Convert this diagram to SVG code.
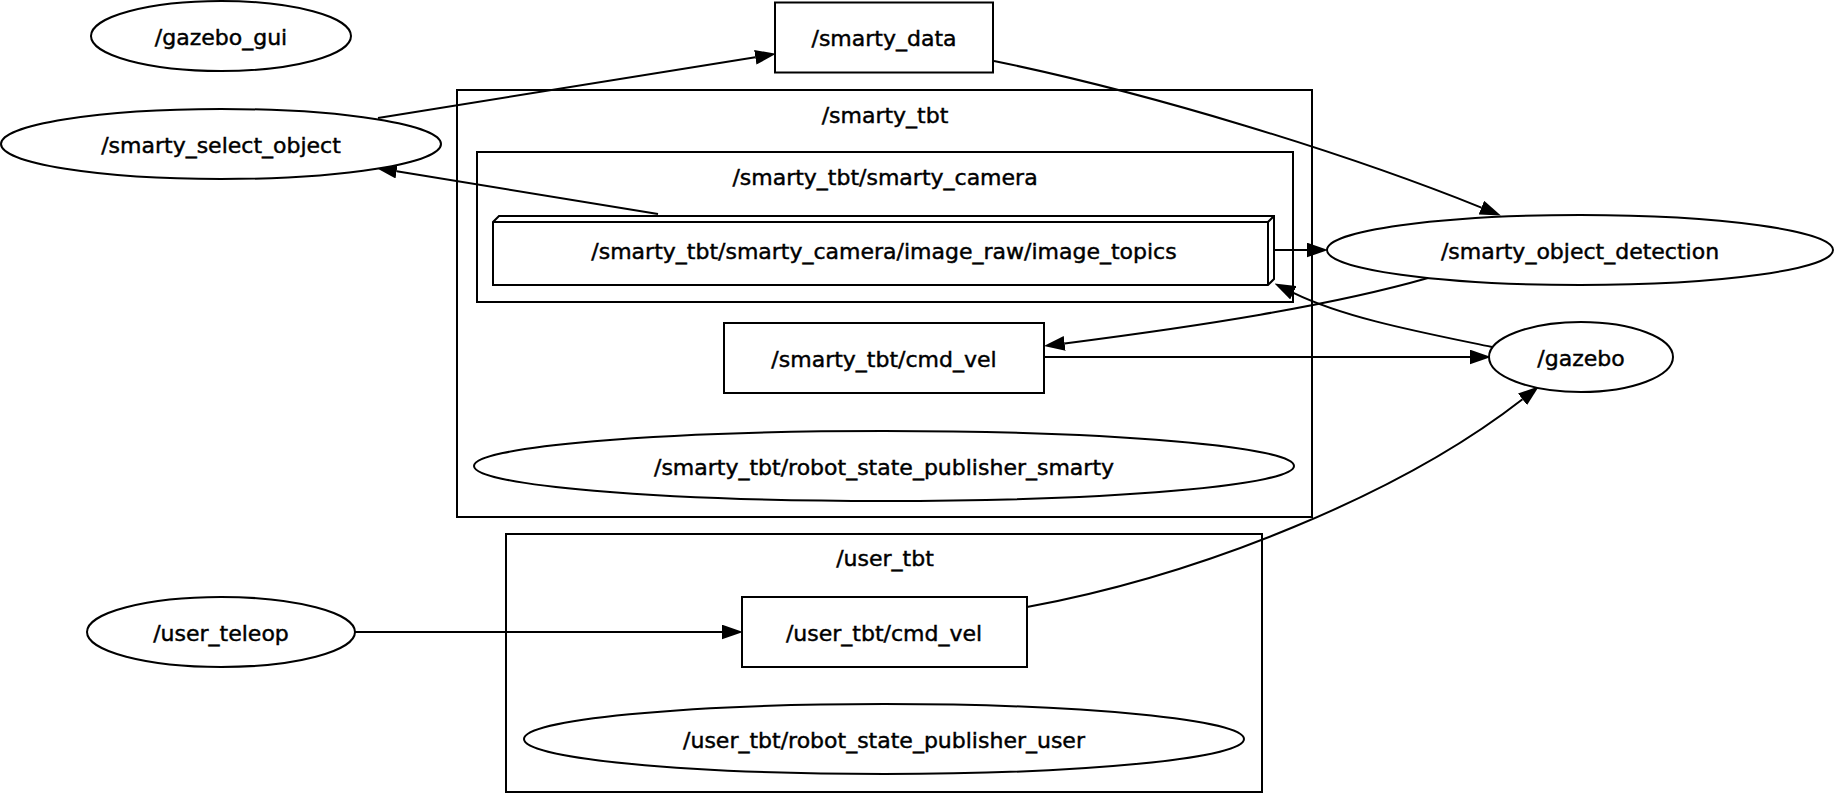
<svg xmlns="http://www.w3.org/2000/svg" width="1834" height="793" viewBox="0 0 1834 793">
<style>
.n{fill:#fff;stroke:#000;stroke-width:2}
.c{fill:none;stroke:#000;stroke-width:2}
.e{fill:none;stroke:#000;stroke-width:2;marker-end:url(#ah)}
text{font-family:"DejaVu Sans","Liberation Sans",sans-serif;font-size:22px;text-anchor:middle;fill:#000;stroke:#000;stroke-width:0.45px}
</style>
<defs>
<marker id="ah" markerUnits="userSpaceOnUse" markerWidth="21" markerHeight="15" viewBox="0 0 20 14" refX="0" refY="7" orient="auto"><path d="M0,0 L20,7 L0,14 z" fill="#000"/></marker>
</defs>
<rect width="1834" height="793" fill="#fff"/>
<g id="cluster_smarty_tbt"><rect class="c" x="457" y="90" width="855" height="427"/><text x="885" y="122.5">/smarty_tbt</text></g>
<g id="cluster_smarty_camera"><rect class="c" x="477" y="152" width="816" height="150"/><text x="885" y="184.5">/smarty_tbt/smarty_camera</text></g>
<g id="cluster_user_tbt"><rect class="c" x="506" y="534" width="756" height="258"/><text x="885" y="565.5">/user_tbt</text></g>
<g id="edges">
<path class="e" d="M378,118 L755.3,57.2"/>
<path class="e" d="M994,61 C1150,93 1343,152 1481.4,207.6"/>
<path class="e" d="M658,214 L396.7,171.2"/>
<path class="e" d="M1275,250 L1307,250"/>
<path class="e" d="M1428,278 C1330,306 1200,326 1064.7,343.4"/>
<path class="e" d="M1492,347 C1420,332 1345,318 1293.4,292.8"/>
<path class="e" d="M1045,357 L1470,357"/>
<path class="e" d="M355,632 L722,632"/>
<path class="e" d="M1027,607 C1200,575 1400,495 1522.5,399.3"/>
</g>
<g id="gazebo_gui"><ellipse class="n" cx="221" cy="36" rx="130" ry="35"/><text x="221" y="44.5">/gazebo_gui</text></g>
<g id="smarty_select_object"><ellipse class="n" cx="221" cy="144" rx="220" ry="35"/><text x="221" y="152.5">/smarty_select_object</text></g>
<g id="smarty_data"><rect class="n" x="775" y="2.5" width="218" height="70"/><text x="884" y="46">/smarty_data</text></g>
<g id="image_topics"><path class="n" d="M493,222 L499,216 L1274,216 L1274,279 L1268,285 L493,285 Z M1268,285 L1268,222 L493,222 M1268,222 L1274,216"/><text x="884" y="258.5">/smarty_tbt/smarty_camera/image_raw/image_topics</text></g>
<g id="smarty_object_detection"><ellipse class="n" cx="1580" cy="250" rx="253" ry="35"/><text x="1580" y="258.5">/smarty_object_detection</text></g>
<g id="smarty_cmd_vel"><rect class="n" x="724" y="323" width="320" height="70"/><text x="884" y="366.5">/smarty_tbt/cmd_vel</text></g>
<g id="gazebo"><ellipse class="n" cx="1581" cy="357" rx="92" ry="35"/><text x="1581" y="365.5">/gazebo</text></g>
<g id="robot_state_publisher_smarty"><ellipse class="n" cx="884" cy="466" rx="410" ry="35"/><text x="884" y="474.5">/smarty_tbt/robot_state_publisher_smarty</text></g>
<g id="user_teleop"><ellipse class="n" cx="221" cy="632" rx="134" ry="35"/><text x="221" y="640.5">/user_teleop</text></g>
<g id="user_cmd_vel"><rect class="n" x="742" y="597" width="285" height="70"/><text x="884" y="640.5">/user_tbt/cmd_vel</text></g>
<g id="robot_state_publisher_user"><ellipse class="n" cx="884" cy="739" rx="360" ry="35"/><text x="884" y="747.5">/user_tbt/robot_state_publisher_user</text></g>
</svg>
